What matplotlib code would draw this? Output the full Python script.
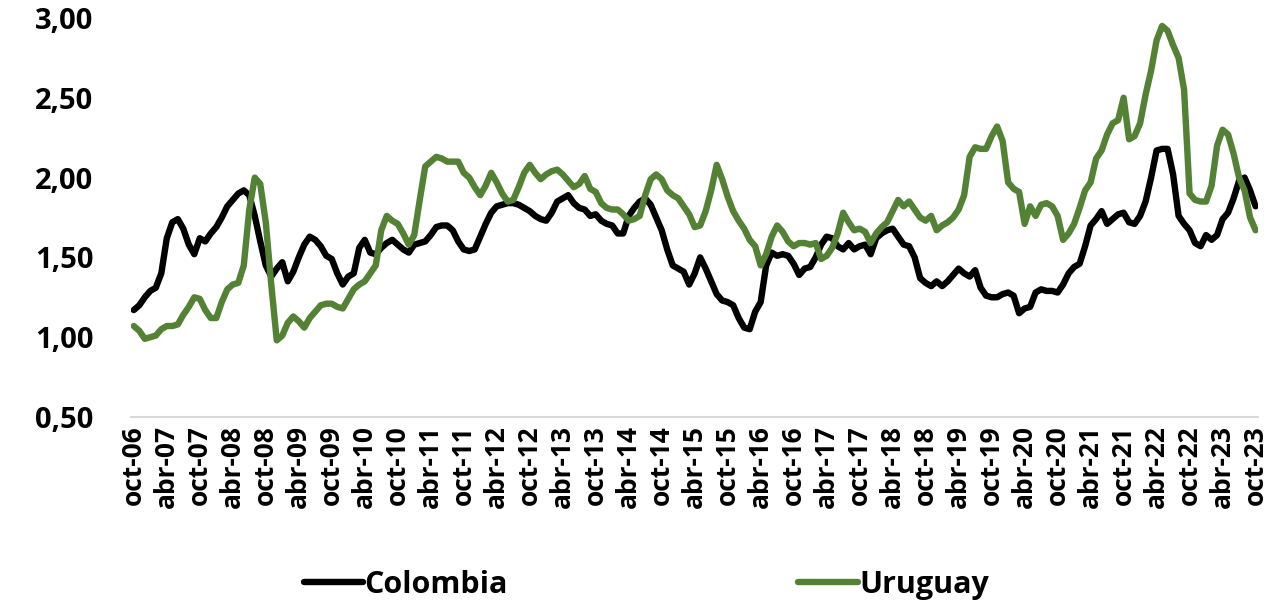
import matplotlib
matplotlib.use("Agg")
import matplotlib.pyplot as plt
from matplotlib.ticker import FuncFormatter

# monthly series, oct-06 .. oct-23
colombia = [
    1.17, 1.20, 1.25, 1.29, 1.31, 1.40, 1.62, 1.72, 1.74, 1.68,
    1.58, 1.52, 1.62, 1.60, 1.65, 1.69, 1.75, 1.82, 1.86, 1.90,
    1.92, 1.89, 1.76, 1.60, 1.45, 1.38, 1.43, 1.47, 1.35, 1.41,
    1.50, 1.58, 1.63, 1.61, 1.57, 1.51, 1.49, 1.40, 1.33, 1.38,
    1.40, 1.56, 1.61, 1.53, 1.52, 1.56, 1.59, 1.61, 1.58, 1.55,
    1.53, 1.58, 1.59, 1.60, 1.64, 1.69, 1.70, 1.70, 1.67, 1.60,
    1.55, 1.54, 1.55, 1.63, 1.71, 1.78, 1.82, 1.83, 1.84, 1.84,
    1.83, 1.81, 1.79, 1.76, 1.74, 1.73, 1.78, 1.85, 1.87, 1.89,
    1.84, 1.81, 1.80, 1.76, 1.77, 1.73, 1.71, 1.70, 1.65, 1.65,
    1.76, 1.81, 1.85, 1.87, 1.83, 1.75, 1.67, 1.55, 1.45, 1.43,
    1.41, 1.33, 1.40, 1.50, 1.43, 1.35, 1.27, 1.23, 1.22, 1.20,
    1.12, 1.06, 1.05, 1.16, 1.22, 1.45, 1.53, 1.51, 1.52, 1.51,
    1.46, 1.39, 1.43, 1.44, 1.50, 1.58, 1.63, 1.62, 1.57, 1.55,
    1.59, 1.55, 1.57, 1.58, 1.52, 1.62, 1.65, 1.67, 1.68, 1.63,
    1.58, 1.57, 1.50, 1.37, 1.34, 1.32, 1.35, 1.32, 1.35, 1.39,
    1.43, 1.40, 1.38, 1.42, 1.31, 1.26, 1.25, 1.25, 1.27, 1.28,
    1.26, 1.15, 1.18, 1.19, 1.28, 1.30, 1.29, 1.29, 1.28, 1.33,
    1.40, 1.44, 1.46, 1.57, 1.70, 1.74, 1.79, 1.71, 1.74, 1.77,
    1.78, 1.72, 1.71, 1.76, 1.85, 2.00, 2.17, 2.18, 2.18, 2.02,
    1.76, 1.71, 1.67, 1.59, 1.57, 1.64, 1.61, 1.64, 1.74, 1.78,
    1.87, 1.98, 2.00, 1.92, 1.82,
]

uruguay = [
    1.07, 1.04, 0.99, 1.00, 1.01, 1.05, 1.07, 1.07, 1.08, 1.14,
    1.19, 1.25, 1.24, 1.17, 1.12, 1.12, 1.22, 1.30, 1.33, 1.34,
    1.45, 1.80, 2.00, 1.96, 1.72, 1.33, 0.98, 1.01, 1.09, 1.13,
    1.10, 1.06, 1.12, 1.16, 1.20, 1.21, 1.21, 1.19, 1.18, 1.24,
    1.30, 1.33, 1.35, 1.40, 1.45, 1.67, 1.76, 1.73, 1.71, 1.65,
    1.58, 1.64, 1.86, 2.07, 2.10, 2.13, 2.12, 2.10, 2.10, 2.10,
    2.03, 2.00, 1.94, 1.89, 1.95, 2.03, 1.97, 1.90, 1.85, 1.86,
    1.94, 2.03, 2.08, 2.03, 1.99, 2.02, 2.04, 2.05, 2.02, 1.98,
    1.94, 1.96, 2.01, 1.93, 1.91, 1.84, 1.81, 1.80, 1.80, 1.77,
    1.73, 1.74, 1.76, 1.89, 1.99, 2.02, 1.99, 1.92, 1.89, 1.87,
    1.82, 1.77, 1.69, 1.70, 1.79, 1.92, 2.08, 1.99, 1.88, 1.79,
    1.73, 1.68, 1.61, 1.57, 1.45, 1.52, 1.63, 1.70, 1.66, 1.60,
    1.57, 1.59, 1.59, 1.58, 1.59, 1.49, 1.51, 1.56, 1.65, 1.78,
    1.72, 1.67, 1.68, 1.66, 1.59, 1.65, 1.69, 1.72, 1.79, 1.86,
    1.82, 1.85, 1.80, 1.75, 1.73, 1.76, 1.67, 1.70, 1.72, 1.75,
    1.80, 1.89, 2.13, 2.19, 2.18, 2.18, 2.26, 2.32, 2.23, 1.97,
    1.93, 1.91, 1.71, 1.82, 1.76, 1.83, 1.84, 1.82, 1.76, 1.61,
    1.65, 1.71, 1.81, 1.92, 1.97, 2.12, 2.17, 2.27, 2.34, 2.36,
    2.50, 2.24, 2.26, 2.34, 2.52, 2.67, 2.86, 2.95, 2.92, 2.83,
    2.75, 2.55, 1.90, 1.86, 1.85, 1.85, 1.95, 2.20, 2.30, 2.27,
    2.15, 2.00, 1.92, 1.75, 1.67,
]

tick_labels = [
    "oct-06", "abr-07", "oct-07", "abr-08", "oct-08", "abr-09", "oct-09",
    "abr-10", "oct-10", "abr-11", "oct-11", "abr-12", "oct-12", "abr-13",
    "oct-13", "abr-14", "oct-14", "abr-15", "oct-15", "abr-16", "oct-16",
    "abr-17", "oct-17", "abr-18", "oct-18", "abr-19", "oct-19", "abr-20",
    "oct-20", "abr-21", "oct-21", "abr-22", "oct-22", "abr-23", "oct-23",
]
y_ticks = [0.5, 1.0, 1.5, 2.0, 2.5, 3.0]

plt.rcParams['font.family'] = ['Open Sans', 'DejaVu Sans']
plt.rcParams['font.weight'] = 'bold'

green = '#548235'

fig = plt.figure(figsize=(12.81, 6.0), dpi=100)
ax = fig.add_axes([0.1023, 0.305, 0.880, 0.665])

x = list(range(len(colombia)))
ax.plot(x, colombia, color='black', lw=4.6, solid_joinstyle='round',
        solid_capstyle='round', label='Colombia')
ax.plot(x, uruguay, color=green, lw=4.6, solid_joinstyle='round',
        solid_capstyle='round', label='Uruguay')

ax.set_xlim(-0.5, len(colombia) - 0.5)
ax.set_ylim(0.5, 3.0)
ax.set_yticks(y_ticks)
ax.yaxis.set_major_formatter(FuncFormatter(lambda v, p: f"{v:.2f}".replace('.', ',')))
ax.set_xticks(range(0, len(colombia), 6))
ax.set_xticklabels(tick_labels, rotation=90)

for s in ['top', 'right', 'left']:
    ax.spines[s].set_visible(False)
ax.spines['bottom'].set_color('#d9d9d9')
ax.spines['bottom'].set_linewidth(1.5)
ax.tick_params(axis='both', length=0)
ax.tick_params(axis='y', labelsize=21, pad=27)
ax.tick_params(axis='x', labelsize=19, pad=6)
for lab in ax.get_xticklabels() + ax.get_yticklabels():
    lab.set_fontweight('bold')

fig.legend(loc='lower left', bbox_to_anchor=(0.225, -0.025), ncol=2, frameon=False,
           prop={'size': 22, 'weight': 'bold'}, handlelength=1.95, borderpad=0.0,
           handletextpad=0.05, columnspacing=9.5)

fig.savefig('out.png', dpi=100)
